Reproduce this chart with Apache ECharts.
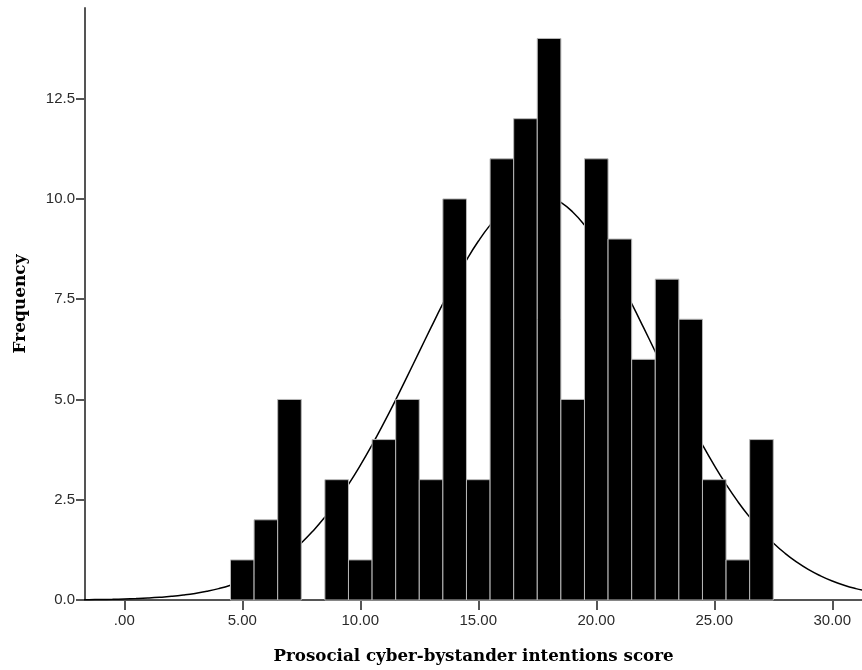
<!DOCTYPE html>
<html>
<head>
<meta charset="utf-8">
<script src="https://cdn.jsdelivr.net/npm/echarts@6/dist/echarts.min.js"></script>
<style>html,body{margin:0;padding:0;background:#fff}#c{width:862px;height:670px}</style>
</head>
<body>
<div id="c"></div>
<script>
// Histogram bins (bin centers, width 1) and frequencies
const binCenters = [5, 6, 7, 8, 9, 10, 11, 12, 13, 14, 15, 16, 17, 18, 19, 20, 21, 22, 23, 24, 25, 26, 27];
const frequencies = [1, 2, 5, 0, 3, 1, 4, 5, 3, 10, 3, 11, 12, 14, 5, 11, 9, 6, 8, 7, 3, 1, 4];
// Normal curve
const curveX = [-2, -1.5, -1, -0.5, 0, 0.5, 1, 1.5, 2, 2.5, 3, 3.5, 4, 4.5, 5, 5.5, 6, 6.5, 7, 7.5, 8, 8.5, 9, 9.5, 10, 10.5, 11, 11.5, 12, 12.5, 13, 13.5, 14, 14.5, 15, 15.5, 16, 16.5, 17, 17.5, 18, 18.5, 19, 19.5, 20, 20.5, 21, 21.5, 22, 22.5, 23, 23.5, 24, 24.5, 25, 25.5, 26, 26.5, 27, 27.5, 28, 28.5, 29, 29.5, 30, 30.5, 31, 31.5];
const curveY = [0.0059, 0.0085, 0.0123, 0.0176, 0.025, 0.035, 0.0486, 0.067, 0.091, 0.123, 0.164, 0.217, 0.284, 0.368, 0.472, 0.601, 0.756, 0.943, 1.164, 1.423, 1.723, 2.066, 2.452, 2.883, 3.356, 3.868, 4.416, 4.991, 5.587, 6.193, 6.797, 7.388, 7.951, 8.475, 8.944, 9.347, 9.674, 9.914, 10.06, 10.11, 10.06, 9.914, 9.674, 9.347, 8.944, 8.475, 7.951, 7.388, 6.797, 6.193, 5.587, 4.991, 4.416, 3.868, 3.356, 2.883, 2.452, 2.066, 1.723, 1.423, 1.164, 0.943, 0.756, 0.601, 0.472, 0.368, 0.284, 0.217];
// Tick values
const xTicks = [0, 5, 10, 15, 20, 25, 30];
const yTicks = [0, 2.5, 5, 7.5, 10, 12.5];

const chart = echarts.init(document.getElementById('c'));
const axisLineStyle = { color: '#555555', width: 2 };
chart.setOption({
  animation: false,
  backgroundColor: '#ffffff',
  grid: { left: 85, right: 0, top: 8, bottom: 69, containLabel: false },
  xAxis: {
    type: 'value',
    min: -1.665,
    max: 31.26,
    splitLine: { show: false },
    axisLine: { show: true, onZero: false, lineStyle: axisLineStyle },
    axisTick: { show: true, length: 10, customValues: xTicks, lineStyle: { color: '#555555', width: 2 } },
    axisLabel: {
      customValues: xTicks,
      margin: 13,
      fontFamily: 'Liberation Sans',
      fontSize: 15,
      color: '#2a2a2a',
      formatter: v => (v === 0 ? '.00' : v.toFixed(2))
    },
    name: 'Prosocial cyber-bystander intentions score',
    nameLocation: 'middle',
    nameGap: 48,
    nameTextStyle: { fontFamily: 'DejaVu Serif', fontWeight: 'bold', fontSize: 16.7, color: '#000' }
  },
  yAxis: {
    type: 'value',
    min: 0,
    max: 14.76,
    splitLine: { show: false },
    axisLine: { show: true, onZero: false, lineStyle: axisLineStyle },
    axisTick: { show: true, length: 9, customValues: yTicks, lineStyle: { color: '#555555', width: 2 } },
    axisLabel: {
      customValues: yTicks,
      margin: 10,
      fontFamily: 'Liberation Sans',
      fontSize: 15,
      color: '#2a2a2a',
      formatter: v => v.toFixed(1)
    },
    name: 'Frequency',
    nameLocation: 'middle',
    nameGap: 56,
    nameTextStyle: { fontFamily: 'DejaVu Serif', fontWeight: 'bold', fontSize: 17, color: '#000' }
  },
  series: [
    {
      type: 'custom',
      data: binCenters.map((c, i) => [c, frequencies[i]]),
      renderItem: function (params, api) {
        const c = api.value(0), h = api.value(1);
        if (!h) return null;
        const p0 = api.coord([c - 0.5, 0]);
        const p1 = api.coord([c + 0.5, h]);
        return {
          type: 'rect',
          shape: { x: p0[0], y: p1[1], width: p1[0] - p0[0], height: p0[1] - p1[1] },
          style: { fill: '#000000', stroke: '#b8b8b8', lineWidth: 1 }
        };
      },
      z: 2
    },
    {
      type: 'line',
      data: curveX.map((x, i) => [x, curveY[i]]),
      smooth: true,
      showSymbol: false,
      clip: true,
      lineStyle: { color: '#000000', width: 1.5 },
      z: 1
    }
  ]
});
</script>
</body>
</html>
